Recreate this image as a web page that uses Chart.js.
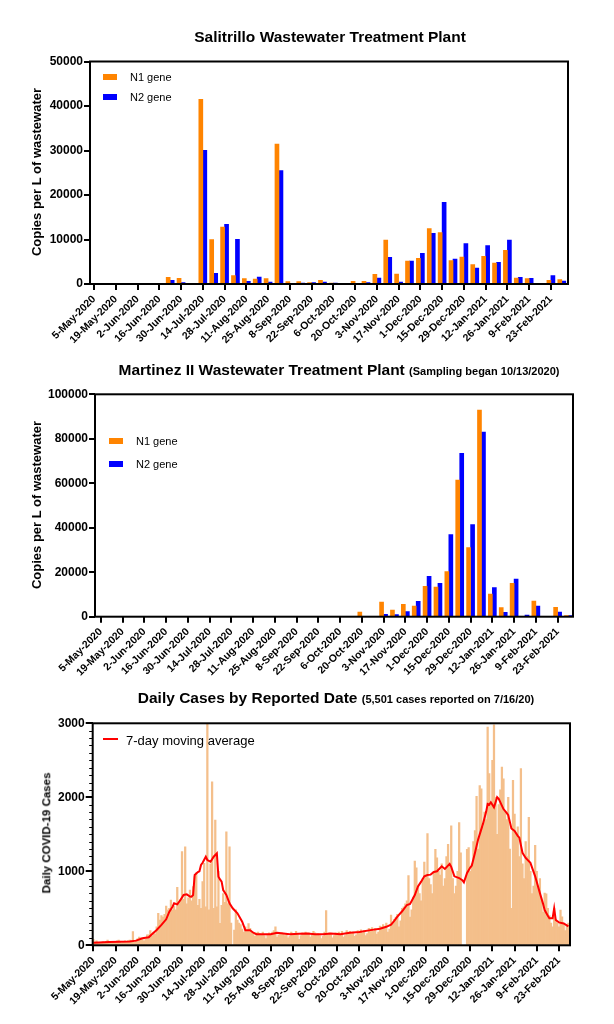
<!DOCTYPE html>
<html><head><meta charset="utf-8">
<script src="https://cdn.jsdelivr.net/npm/chart.js@4.4.0/dist/chart.umd.min.js"></script>
<style>
html,body{margin:0;padding:0;background:#fff;}
body{width:614px;height:1024px;position:relative;overflow:hidden;font-family:"Liberation Sans",Arial,sans-serif;}
.box{position:absolute;left:0;width:614px;}
.t{position:absolute;white-space:nowrap;color:#000;z-index:2;line-height:1;}
.title{font-weight:bold;font-size:15.5px;transform:translate(-50%,-50%);}
.sub{font-size:11px;}
.ytitle{font-weight:bold;font-size:13px;transform:translate(-50%,-50%) rotate(-90deg);}
.leg{font-size:11px;transform:translateY(-50%);}
.sw{position:absolute;z-index:2;}
</style></head><body>
<div class="box" style="top:0;height:350px"><canvas id="c1"></canvas></div>
<div class="box" style="top:350px;height:340px"><canvas id="c2"></canvas></div>
<div class="box" style="top:690px;height:334px"><canvas id="c3"></canvas></div>

<div class="t title" style="left:330px;top:37px">Salitrillo Wastewater Treatment Plant</div>
<div class="t ytitle" style="left:36px;top:172px">Copies per L of wastewater</div>
<div class="sw" style="left:103px;top:74px;width:14px;height:6px;background:#FF8400"></div>
<div class="t leg" style="left:130px;top:77px">N1 gene</div>
<div class="sw" style="left:103px;top:94px;width:14px;height:6px;background:#0000FF"></div>
<div class="t leg" style="left:130px;top:97px">N2 gene</div>

<div class="t title" style="left:339px;top:370px">Martinez II Wastewater Treatment Plant <span class="sub">(Sampling began 10/13/2020)</span></div>
<div class="t ytitle" style="left:36px;top:505px">Copies per L of wastewater</div>
<div class="sw" style="left:109px;top:438px;width:14px;height:6px;background:#FF8400"></div>
<div class="t leg" style="left:136px;top:441px">N1 gene</div>
<div class="sw" style="left:109px;top:461px;width:14px;height:6px;background:#0000FF"></div>
<div class="t leg" style="left:136px;top:464px">N2 gene</div>

<div class="t title" style="left:336px;top:698px">Daily Cases by Reported Date <span class="sub">(5,501 cases reported on 7/16/20)</span></div>
<div class="t ytitle" style="left:47px;top:833px;font-size:11.5px">Daily COVID-19 Cases</div>
<div class="sw" style="left:103px;top:738px;width:15px;height:2px;background:#FF0000"></div>
<div class="t leg" style="left:126px;top:740px;font-size:13px">7-day moving average</div>

<script>
// ---------- data ----------
const startDate = '2020-05-05';
const tickLabels = ['5-May-2020','19-May-2020','2-Jun-2020','16-Jun-2020','30-Jun-2020','14-Jul-2020','28-Jul-2020','11-Aug-2020','25-Aug-2020','8-Sep-2020','22-Sep-2020','6-Oct-2020','20-Oct-2020','3-Nov-2020','17-Nov-2020','1-Dec-2020','15-Dec-2020','29-Dec-2020','12-Jan-2021','26-Jan-2021','9-Feb-2021','23-Feb-2021'];

const sampleDates = ['2020-05-05','2020-05-12','2020-05-19','2020-05-26','2020-06-02','2020-06-09','2020-06-16','2020-06-23','2020-06-30','2020-07-07','2020-07-14','2020-07-21','2020-07-28','2020-08-04','2020-08-11','2020-08-18','2020-08-25','2020-09-01','2020-09-08','2020-09-15','2020-09-22','2020-09-29','2020-10-06','2020-10-13','2020-10-20','2020-10-27','2020-11-03','2020-11-10','2020-11-17','2020-11-24','2020-12-01','2020-12-08','2020-12-15','2020-12-22','2020-12-29','2021-01-05','2021-01-12','2021-01-19','2021-01-26','2021-02-02','2021-02-09','2021-02-16','2021-02-23','2021-03-02'];

const salitrilloN1 = [0,0,0,0,0,0,0,1500,1270,0,41500,10000,12800,1870,1200,1120,1200,31460,520,520,300,820,100,0,600,600,2170,9890,2250,5170,5770,12430,11540,5240,6070,4340,6220,4720,7570,1350,1200,0,820,970];
const salitrilloN2 = [0,0,0,0,0,0,0,820,300,0,30040,2400,13400,10040,600,1570,450,25470,0,220,300,450,150,0,0,300,1350,5990,450,5170,6890,11390,18350,5620,9060,3600,8610,4870,9890,1500,1270,0,1870,670];

const martinezN1 = [0,0,0,0,0,0,0,0,0,0,0,0,0,0,0,0,0,0,0,0,0,0,0,0,2100,0,6600,3000,5550,4800,13650,13340,20240,61460,31030,92940,10190,4050,15000,0,7050,0,4200,300];
const martinezN2 = [0,0,0,0,0,0,0,0,0,0,0,0,0,0,0,0,0,0,0,0,0,0,0,0,0,0,1050,900,2250,6900,18140,15000,36880,73450,41370,83050,13040,1950,16940,750,4800,0,2100,300];

// daily reported cases, one value per day starting 2020-05-05
const dailyCases = [
 80,45,60,40,25,35,50,
 40,55,70,45,30,40,55,
 45,60,70,50,30,45,60,
 55,65,70,60,185,40,70,
 90,110,100,95,60,80,140,
 140,200,120,180,150,250,432,
 340,400,380,420,530,477,500,
 612,480,530,480,783,560,620,
 1265,620,1332,560,640,747,600,
 792,927,981,540,620,500,860,
 1107,520,5501,480,1100,2210,500,
 1692,520,1000,297,540,700,580,
 1535,560,1332,300,0,207,480,
 341,300,280,220,180,250,200,
 295,230,190,150,120,170,180,
 160,140,180,130,90,150,170,
 150,180,200,250,110,140,160,
 170,150,130,160,100,120,180,
 150,160,190,140,80,130,170,
 160,180,150,170,110,140,190,
 170,150,160,130,90,120,180,
 468,150,170,140,100,130,170,
 160,180,150,190,110,130,200,
 170,190,160,180,120,140,200,
 190,210,170,200,130,160,230,
 220,240,190,230,150,180,260,
 250,280,240,300,180,220,409,
 300,350,380,420,250,330,500,
 520,560,600,941,380,480,650,
 1137,1046,800,700,600,900,1123,
 950,1510,900,820,700,1000,1296,
 1182,1000,950,1100,800,900,1200,
 1364,1100,1614,900,700,800,1000,
 1660,1250,0,0,0,1296,1319,
 1000,1100,1400,1550,2014,1300,2160,
 2114,1600,1800,1700,2950,2319,1900,
 2500,2980,2000,1500,1900,2100,2410,
 2250,1800,1700,2000,1300,500,2228,
 1773,1500,1600,1200,2387,1100,900,
 1400,1200,1728,1000,700,800,1350,
 1000,800,900,600,450,705,696,
 500,400,300,250,500,350,300,
 250,477,386,300,200,280,300
];

// 7-day moving average: day offset from start, value
const maDays = [0,10,17,23,27,31,35,37,40,43,46,48,50,51,53,55,57,59,61,62,63,64,66,67,68,69,71,72,74,76,77,78,79,80,81,82,84,86,88,91,94,96,99,101,103,108,112,116,120,124,130,135,140,145,150,156,162,168,175,181,185,188,190,192,195,198,200,203,205,207,209,211,213,215,217,220,222,225,226,228,231,233,234,236,238,239,241,243,246,248,249,250,251,253,255,256,259,261,262,264,266,268,269,271,273,276,279,282,284,285,287,288,290,291,292,294,297,299,300];
const maValues = [36,45,48,50,63,95,108,150,207,275,351,455,522,567,553,612,680,689,660,657,680,950,990,1000,1085,1116,1197,1152,1130,1197,1220,1242,927,890,860,747,680,567,500,432,318,205,205,170,150,150,150,170,160,150,155,160,150,150,160,150,170,180,205,225,250,280,330,387,460,545,560,680,795,860,932,950,955,990,1000,1068,1032,1100,1060,932,909,880,850,978,1050,1077,1250,1432,1637,1800,1910,1900,1933,1865,2001,1980,1841,1790,1760,1578,1546,1480,1455,1250,1180,1114,932,705,560,477,400,364,364,500,341,310,295,270,255];

// ---------- helpers ----------
const MONTHS = {Jan:0,Feb:1,Mar:2,Apr:3,May:4,Jun:5,Jul:6,Aug:7,Sep:8,Oct:9,Nov:10,Dec:11};
const DAY = 86400000;
function isoToUTC(s){const [y,m,d]=s.split('-').map(Number);return Date.UTC(y,m-1,d);}
const t0 = isoToUTC(startDate);
function isoDay(s){return Math.round((isoToUTC(s)-t0)/DAY);}
function labelDay(l){const [d,m,y]=l.split('-');return Math.round((Date.UTC(+y,MONTHS[m],+d)-t0)/DAY);}
const tickDays = tickLabels.map(labelDay);
const sampleDays = sampleDates.map(isoDay);

const FONT = '"Liberation Sans", Arial, sans-serif';
const ORANGE = '#FF8400', BLUE = '#0000FF';

const boxPlugin = {id:'box', afterDatasetsDraw(chart){
  const a = chart.chartArea, c = chart.ctx;
  c.save(); c.strokeStyle = '#000'; c.lineWidth = 2;
  c.strokeRect(a.left, a.top, a.right - a.left, a.bottom - a.top);
  c.restore();
}};
// short minor ticks on the y axis (every 100 cases)
const minorPlugin = {id:'minor', afterDraw(chart){
  const y = chart.scales.y, a = chart.chartArea, c = chart.ctx;
  c.save(); c.strokeStyle = '#000'; c.lineWidth = 1;
  for (let v = y.min; v <= y.max; v += 100) {
    if (v % 1000 === 0) continue;
    const p = Math.round(y.getPixelForValue(v)) + 0.5;
    c.beginPath(); c.moveTo(a.left - 3.5, p); c.lineTo(a.left, p); c.stroke();
  }
  c.restore();
}};

function xScale(min, max, h){
  return {
    type:'linear', min, max, offset:false,
    afterBuildTicks: s => { s.ticks = tickDays.map(v => ({value:v})); },
    afterFit: s => { s.height = h; },
    ticks:{autoSkip:false, maxRotation:45, minRotation:45, color:'#000', padding:3,
      font:{family:FONT, size:10.5, weight:'bold'}, callback:(v,i)=>tickLabels[i]},
    grid:{drawOnChartArea:false, drawTicks:true, tickLength:6, color:'#000', lineWidth:2, offset:false},
    border:{display:false}
  };
}
function yScale(max, step, w, tickLen){
  return {
    min:0, max, afterFit: s => { s.width = w; },
    ticks:{stepSize:step, autoSkip:false, color:'#000', padding:1,
      font:{family:FONT, size:12, weight:'bold'}, callback: v => String(v)},
    grid:{drawOnChartArea:false, drawTicks:true, tickLength:tickLen, color:'#000', lineWidth:2},
    border:{display:false}
  };
}
const common = {responsive:true, maintainAspectRatio:false, animation:false,
  plugins:{legend:{display:false}, tooltip:{enabled:false}}};

function wwChart(id, n1, n2, pad, xmin, xmax, xh, ymax, ystep, yw){
  new Chart(document.getElementById(id), {
    type:'bar',
    data:{datasets:[
      {label:'N1 gene', data:sampleDays.map((d,i)=>({x:d, y:n1[i]})), backgroundColor:ORANGE, barThickness:4},
      {label:'N2 gene', data:sampleDays.map((d,i)=>({x:d, y:n2[i]})), backgroundColor:BLUE, barThickness:4}
    ]},
    options:Object.assign({}, common, {
      layout:{padding:pad},
      scales:{x:xScale(xmin, xmax, xh), y:yScale(ymax, ystep, yw, 6)}
    }),
    plugins:[boxPlugin]
  });
}

// Chart 1: plot 90..568 x 61.5..284
wwChart('c1', salitrilloN1, salitrilloN2, {top:61.5, right:46, left:0, bottom:0}, -2.6, 305, 350-284, 50000, 10000, 90);
// Chart 2: canvas top 350, plot 95..573 x 394.3..616.7
wwChart('c2', martinezN1, martinezN2, {top:44.3, right:41, left:0, bottom:0}, -3.7, 303.9, 690-616.7, 100000, 20000, 95);
// Chart 3: canvas top 690, plot 92.7..570 x 723.3..945.3
new Chart(document.getElementById('c3'), {
  type:'bar',
  data:{datasets:[
    {type:'line', label:'7-day moving average', data:maDays.map((d,i)=>({x:d, y:maValues[i]})),
      borderColor:'#FF0000', borderWidth:2, pointRadius:0, tension:0, order:0},
    {type:'bar', label:'Daily cases', data:dailyCases.map((v,i)=>({x:i, y:v})),
      backgroundColor:'#F4BF8B', barThickness:1.6, order:1}
  ]},
  options:Object.assign({}, common, {
    layout:{padding:{top:33.3, right:44, left:0, bottom:0}},
    scales:{x:xScale(-0.4, 301, 1024-945.3), y:yScale(3000, 1000, 92.7, 7)}
  }),
  plugins:[boxPlugin, minorPlugin]
});
</script>
</body></html>
